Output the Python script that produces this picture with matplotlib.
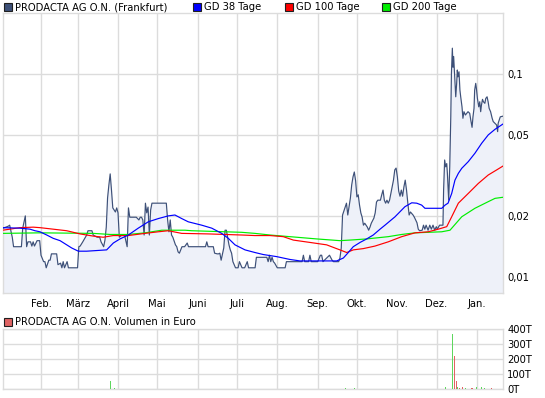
import matplotlib
matplotlib.use('Agg')
import matplotlib.pyplot as plt
import matplotlib.dates as mdates
import numpy as np
import pandas as pd
from matplotlib.patches import Rectangle

BASE = '2010-01-01'

# ---- price (days since BASE, EUR) ----
price_days = [2, 6, 7, 9, 10, 16, 17, 19, 20, 21, 23, 24, 25, 26, 28, 30, 31, 33, 34, 35, 37, 38, 39, 43, 44, 46,
              47, 48, 49, 51, 52, 59, 60, 61, 63, 66, 67, 70, 71, 74, 76, 77, 79, 80, 81, 82, 83, 84, 85, 86, 88,
              89, 90, 91, 93, 95, 97, 98, 99, 104, 106, 107, 108, 109, 110, 111, 112, 113, 114, 115, 116, 127, 128,
              129, 130, 131, 132, 134, 135, 136, 137, 139, 141, 143, 144, 157, 158, 159, 163, 164, 166, 167, 168,
              169, 171, 172, 173, 174, 175, 176, 177, 178, 180, 182, 183, 185, 187, 189, 190, 195, 196, 204, 205,
              206, 207, 208, 209, 210, 212, 218, 219, 231, 232, 233, 236, 237, 238, 243, 245, 246, 247, 252, 254,
              255, 259, 260, 261, 262, 264, 265, 266, 268, 269, 270, 271, 272, 273, 274, 275, 276, 277, 278, 279,
              281, 282, 283, 284, 286, 287, 288, 289, 291, 292, 293, 294, 295, 296, 297, 298, 300, 301, 302, 303,
              304, 305, 306, 307, 308, 309, 310, 311, 312, 313, 314, 316, 317, 318, 319, 320, 321, 323, 324, 325,
              326, 327.5, 328.8, 330, 331.3, 332.6, 333.8, 334.6, 336.3, 338.9, 339.4, 340.2, 341, 341.8, 342.3,
              343.3, 344.1, 344.9, 345.4, 346.1, 346.6, 347.1, 347.9, 348.7, 349.4, 349.9, 350.4, 351.2, 351.9,
              352.5, 353.5, 354.2, 355, 356.1, 357.1, 358.1, 359.4, 360.2, 361.2, 361.9, 362.7, 363.2, 364, 364.5,
              365.3, 366.3, 367.1, 367.8, 368.4, 369.2, 369.9, 371, 371.7, 372.7, 373.5, 374.3, 375.4, 376.6,
              377.4, 378.7, 380, 380.8, 381.2, 382, 382.8, 384.9]
price = [0.0174, 0.0178, 0.0180, 0.0157, 0.0141, 0.0141, 0.0174, 0.0200, 0.0141, 0.0149, 0.0149, 0.0142, 0.0149,
         0.0142, 0.0151, 0.0151, 0.0128, 0.0119, 0.0119, 0.0111, 0.0121, 0.0121, 0.0130, 0.0130, 0.0115, 0.0117,
         0.0111, 0.0119, 0.0111, 0.0119, 0.0111, 0.0111, 0.0141, 0.0142, 0.0149, 0.0161, 0.0169, 0.0169, 0.0161,
         0.0157, 0.0157, 0.0149, 0.0141, 0.0152, 0.0176, 0.0245, 0.0284, 0.0322, 0.0268, 0.0219, 0.0209, 0.0219,
         0.0207, 0.0157, 0.0161, 0.0161, 0.0141, 0.0219, 0.0197, 0.0197, 0.0191, 0.0197, 0.0197, 0.0191, 0.0161,
         0.0231, 0.0207, 0.0221, 0.0161, 0.0214, 0.0231, 0.0231, 0.0191, 0.0167, 0.0191, 0.0161, 0.0157, 0.0144,
         0.0141, 0.0133, 0.0131, 0.0141, 0.0141, 0.0147, 0.0141, 0.0141, 0.0149, 0.0141, 0.0141, 0.0131, 0.0130,
         0.0130, 0.0131, 0.0121, 0.0139, 0.0170, 0.0170, 0.0157, 0.0144, 0.0136, 0.0131, 0.0119, 0.0111, 0.0111,
         0.0119, 0.0111, 0.0111, 0.0119, 0.0111, 0.0111, 0.0125, 0.0125, 0.0119, 0.0128, 0.0119, 0.0125, 0.0119,
         0.0117, 0.0111, 0.0111, 0.0119, 0.0119, 0.0128, 0.0119, 0.0119, 0.0128, 0.0119, 0.0119, 0.0128, 0.0128,
         0.0119, 0.0128, 0.0121, 0.0119, 0.0119, 0.0124, 0.0139, 0.0202, 0.0221, 0.0231, 0.0202, 0.0245, 0.0284,
         0.0311, 0.0329, 0.0298, 0.0248, 0.0254, 0.0226, 0.0207, 0.0197, 0.0180, 0.0184, 0.0176, 0.0170, 0.0176,
         0.0184, 0.0195, 0.0207, 0.0234, 0.0239, 0.0239, 0.0254, 0.0268, 0.0239, 0.0231, 0.0239, 0.0231, 0.0239,
         0.0278, 0.0300, 0.0337, 0.0344, 0.0311, 0.0265, 0.0250, 0.0268, 0.0250, 0.0278, 0.0300, 0.0268, 0.0231,
         0.0202, 0.0209, 0.0202, 0.0197, 0.0191, 0.0185, 0.0172, 0.0169, 0.0170, 0.0180, 0.0172, 0.0180, 0.0170,
         0.0180, 0.0172, 0.0180, 0.0170, 0.0177, 0.0172, 0.0180, 0.0180, 0.0268, 0.0377, 0.0349, 0.0362, 0.0324,
         0.0239, 0.0349, 0.0615, 0.1010, 0.134, 0.108, 0.122, 0.0968, 0.0772, 0.0899, 0.1046, 0.0968, 0.1025,
         0.0834, 0.0772, 0.0689, 0.0605, 0.0652, 0.0628, 0.0640, 0.0652, 0.0640, 0.0594, 0.0546, 0.0615, 0.0677,
         0.0834, 0.0899, 0.0852, 0.0758, 0.0689, 0.0730, 0.0652, 0.0703, 0.0750, 0.0730, 0.0717, 0.0758, 0.0772,
         0.0730, 0.0677, 0.0652, 0.0605, 0.0583, 0.0572, 0.0561, 0.0520, 0.0572, 0.0594, 0.0615, 0.0620]

# ---- moving averages ----
gd38_days = [1.7, 14.9, 22.6, 26.4, 30.2, 35.4, 40.4, 45.6, 50.7, 54.5, 59.6, 66, 73.7, 81.3, 86.4, 91.5, 97.9,
             105.5, 113.2, 120.9, 128.5, 133.6, 138.8, 143.8, 154.1, 161.8, 169.4, 174.5, 179.6, 187.3, 194.9,
             201.3, 211.5, 221.7, 229.4, 242.2, 257.5, 262.6, 266.4, 270.2, 275.4, 280.5, 285.5, 290.7, 294.5,
             302.2, 309.8, 315, 318.8, 322.6, 325.1, 338, 340.5, 342.8, 345.6, 348.1, 350.7, 353.3, 358.3, 363.4,
             368.6, 373.6, 378.8, 384.9]
gd38 = [0.0175, 0.0174, 0.0172, 0.0169, 0.0167, 0.0161, 0.0155, 0.0151, 0.0144, 0.0139, 0.0134, 0.0134, 0.0135,
        0.0136, 0.0147, 0.0154, 0.0161, 0.0174, 0.0187, 0.0194, 0.0200, 0.0202, 0.0194, 0.0187, 0.0180, 0.0174,
        0.0164, 0.0155, 0.0144, 0.0136, 0.0132, 0.0129, 0.0126, 0.0122, 0.0120, 0.0120, 0.0120, 0.0124, 0.0132,
        0.0141, 0.0148, 0.0154, 0.0161, 0.0172, 0.0180, 0.0198, 0.0222, 0.0232, 0.0231, 0.0226, 0.0218, 0.0218,
        0.0226, 0.0231, 0.0258, 0.0300, 0.0324, 0.0343, 0.0370, 0.0407, 0.0456, 0.0501, 0.0534, 0.0567]

gd100_days = [1.7, 14.9, 25.1, 30.2, 40.4, 50.7, 60.9, 71.1, 78.7, 86.4, 97.9, 110.7, 120.9, 128.5, 138.8, 159.2,
              171.9, 184.7, 194.9, 206.4, 216.6, 224.3, 237, 249.8, 260, 265.2, 270.2, 277.9, 286.8, 297, 307.3,
              317.5, 327.7, 335.3, 341.8, 345.6, 350.7, 358.3, 366, 373.6, 380.1, 384.9]
gd100 = [0.0170, 0.0175, 0.0176, 0.0175, 0.0172, 0.0169, 0.0163, 0.0159, 0.0157, 0.0160, 0.0160, 0.0164, 0.0167,
         0.0169, 0.0164, 0.0163, 0.0162, 0.0161, 0.0160, 0.0160, 0.0158, 0.0152, 0.0148, 0.0144, 0.0136, 0.0132,
         0.0136, 0.0138, 0.0142, 0.0149, 0.0158, 0.0165, 0.0167, 0.0172, 0.0177, 0.0198, 0.0231, 0.0258, 0.0289,
         0.0318, 0.0337, 0.0352]

gd200_days = [1.7, 30.2, 71.1, 83.9, 97.9, 110.7, 123.5, 141.3, 146.4, 171.9, 184.7, 194.9, 206.4, 221.7, 242.2,
              260, 267.7, 280.5, 297, 307.3, 317.5, 338, 344.3, 353.3, 363.4, 373.6, 378.8, 384.9]
gd200 = [0.0164, 0.0165, 0.0164, 0.0162, 0.0162, 0.0165, 0.0170, 0.0170, 0.0169, 0.0167, 0.0166, 0.0164, 0.0161,
         0.0158, 0.0154, 0.0151, 0.0152, 0.0154, 0.0158, 0.0162, 0.0165, 0.0167, 0.0170, 0.0198, 0.0218, 0.0235,
         0.0244, 0.0247]

# ---- volume (thousand EUR) ----
vol_days = [83.1, 83.9, 87.1, 136.9, 264.6, 271.3, 340.7, 344.3, 346.1, 347.4, 349.1, 350.4, 351.9, 354.2, 355.9,
            360.4, 361.5, 364.4, 368.8, 371.1, 375.9]
vol_values = [3, 55, 10, 3, 4, 5, 12, 12, 367, 220, 55, 12, 9, 12, 5, 8, 8, 12, 12, 5, 8]
vol_dir = ['up', 'up', 'up', 'flat', 'up', 'up', 'up', 'up', 'up', 'down', 'down', 'up', 'down', 'down', 'up',
           'down', 'down', 'up', 'up', 'up', 'down']

month_labels = ['Feb.', 'März', 'April', 'Mai', 'Juni', 'Juli', 'Aug.', 'Sep.', 'Okt.', 'Nov.', 'Dez.', 'Jan.']
price_ticks = [0.01, 0.02, 0.05, 0.1]
price_tick_labels = ['0,01', '0,02', '0,05', '0,1']
vol_ticks = [0, 100, 200, 300, 400]
vol_tick_labels = ['0T', '100T', '200T', '300T', '400T']

legend_labels = ['PRODACTA AG O.N. (Frankfurt)', 'GD 38 Tage', 'GD 100 Tage', 'GD 200 Tage']
vol_title = 'PRODACTA AG O.N. Volumen in Euro'


def to_dates(days):
    return pd.Timestamp(BASE) + pd.to_timedelta(np.asarray(days, dtype=float), unit='D')


C_PRICE = '#3d5078'
C_FILL = '#eef1f9'
C_GRID = '#dcdcdc'
C_38 = '#0000ff'
C_100 = '#ff0000'
C_200 = '#00ee00'
C_UP = '#5ed65e'
C_DOWN = '#e06464'
C_FLAT = '#a0a0a0'
FS = 7.2
FONT = 'DejaVu Sans'
plt.rcParams['font.family'] = FONT

W, H = 545, 398
fig = plt.figure(figsize=(W / 100, H / 100), dpi=100)
fig.patch.set_facecolor('white')


def fx(px):
    return px / W


def fy(py):
    return 1 - py / H


ax = fig.add_axes([fx(3), fy(293), fx(500), (293 - 13) / H])
axv = fig.add_axes([fx(3), fy(389), fx(500), (389 - 329) / H])

x0, x1 = to_dates([1.9])[0], to_dates([384.9])[0]
month_pos = pd.date_range('2010-02-01', periods=len(month_labels), freq='MS')

pd_dates = to_dates(price_days)
ax.set_yscale('log')
ax.set_ylim(0.00834, 0.1997)
ax.set_xlim(x0, x1)
ax.fill_between(pd_dates, price, 0.001, color=C_FILL, lw=0, zorder=1)
ax.plot(pd_dates, price, color=C_PRICE, lw=0.85, zorder=3)
ax.plot(to_dates(gd200_days), gd200, color=C_200, lw=0.85, zorder=4)
ax.plot(to_dates(gd100_days), gd100, color=C_100, lw=0.85, zorder=5)
ax.plot(to_dates(gd38_days), gd38, color=C_38, lw=0.85, zorder=6)

for a in (ax, axv):
    a.set_facecolor('white')
    for s in a.spines.values():
        s.set_color(C_GRID)
        s.set_linewidth(1.0)
    a.set_xticks(month_pos)
    a.grid(True, color=C_GRID, lw=1.0, zorder=0)
    a.set_axisbelow(True)
    a.tick_params(length=0, labelsize=FS, colors='black')
    a.yaxis.tick_right()

ax.set_yticks(price_ticks)
ax.set_yticklabels(price_tick_labels)
ax.yaxis.set_minor_locator(matplotlib.ticker.NullLocator())
ax.set_xticklabels(month_labels)
ax.tick_params(axis='x', pad=4)
ax.tick_params(axis='y', pad=3)
for t in ax.get_yticklabels():
    t.set_ha('left')

vcol = {'up': C_UP, 'down': C_DOWN, 'flat': C_FLAT}
axv.bar(to_dates(vol_days), vol_values, width=0.75, color=[vcol[d] for d in vol_dir], lw=0, zorder=3)
axv.set_xlim(x0, x1)
axv.set_ylim(0, 400)
axv.set_yticks(vol_ticks)
axv.set_yticklabels(vol_tick_labels)
axv.set_xticklabels([])
axv.tick_params(axis='y', pad=3)

# legends
leg_sq = [(4, C_PRICE), (193, C_38), (285, C_100), (382, C_200)]
for (lx, col), lab in zip(leg_sq, legend_labels):
    fig.patches.append(Rectangle((fx(lx), fy(11)), 8 / W, 8 / H, transform=fig.transFigure,
                                 facecolor=col, edgecolor='#202020', lw=0.8))
    fig.text(fx(lx + 11), fy(7), lab, fontsize=FS, va='center', ha='left')

fig.patches.append(Rectangle((fx(4), fy(326)), 8 / W, 8 / H, transform=fig.transFigure,
                             facecolor=C_DOWN, edgecolor='#202020', lw=0.8))
fig.text(fx(15), fy(322), vol_title, fontsize=FS, va='center', ha='left')

fig.savefig('out.png', dpi=100, facecolor='white')
